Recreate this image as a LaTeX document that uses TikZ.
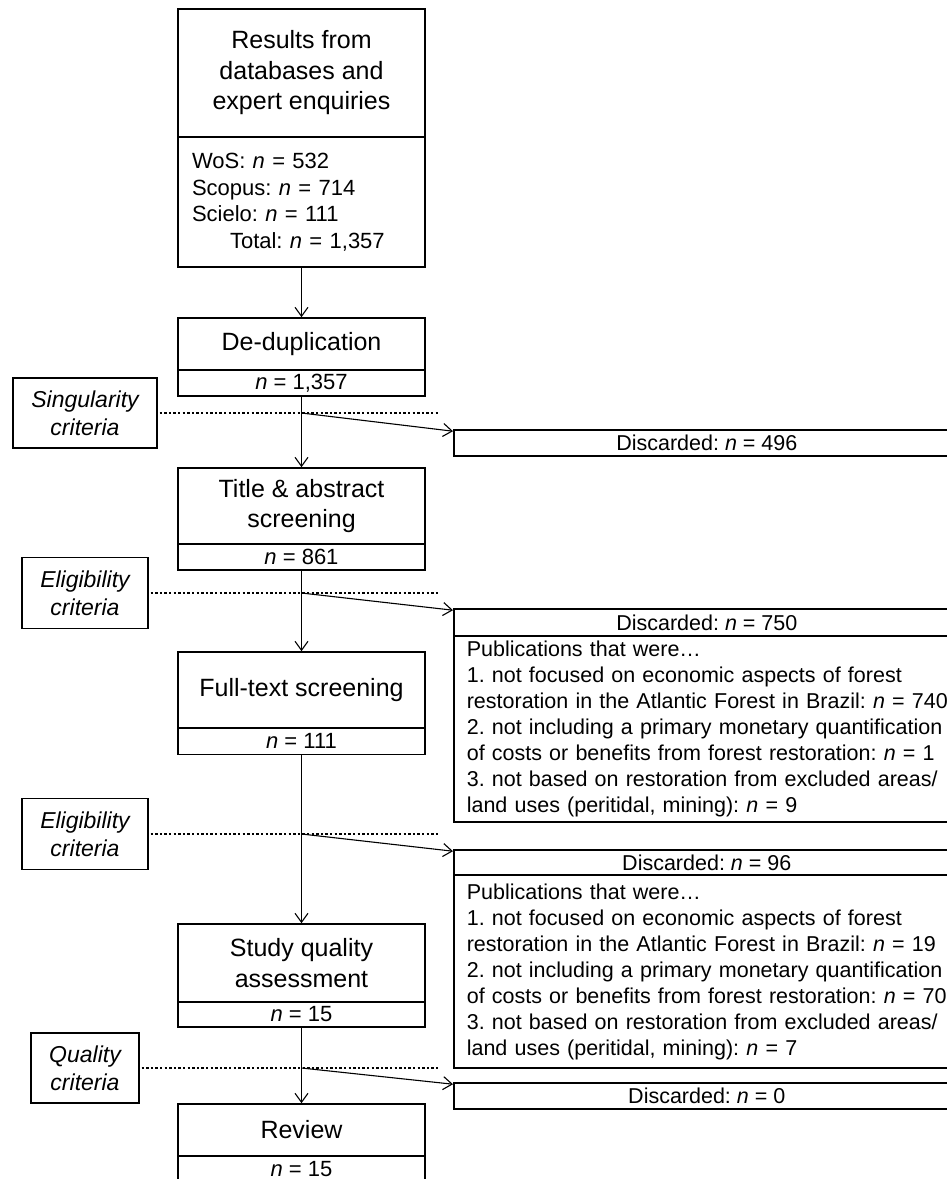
\documentclass[tikz,border=0pt]{standalone}
\usepackage{fontspec}
\setmainfont{Liberation Sans}
\usetikzlibrary{arrows.meta}
\frenchspacing
\begin{document}
\begin{tikzpicture}
    [
        x = 1pt, y = -1pt,
        stage/.style = {draw, line width=1.6pt, minimum width=247pt, inner sep=0pt, align=center, font=\fontsize{25}{30.5}\selectfont},
        count/.style = {draw, line width=1.6pt, minimum width=247pt, minimum height=26pt, inner sep=0pt, font=\fontsize{22}{26}\selectfont},
        crit/.style = {draw, line width=1.2pt, inner sep=0pt, align=center, font=\itshape\fontsize{23}{28}\selectfont},
        disc/.style = {draw, line width=1.6pt, anchor=west, minimum width=506pt, minimum height=26pt, inner sep=0pt, font=\fontsize{21.5}{26}\selectfont},
        discbody/.style = {disc, text width=520pt, inner xsep=13pt, align=left},
        flow/.style = {-{Straight Barb[length=9pt, width=13pt]}, line width=1.1pt},
        sep/.style = {dash pattern=on 2.3pt off 2.3pt, line width=2pt}
    ]
    \useasboundingbox (0, 0) rectangle (947, 1179);
    \node[stage, minimum height=128pt] (res) at (301.5, 73) {Results from\\databases and\\expert enquiries};
    \node[count, minimum height=130pt, text width=219pt, inner xsep=14pt, align=left, font=\fontsize{22}{26.5}\selectfont] (resn) at (301.5, 202) {WoS: \textit{n} = 532\\Scopus: \textit{n} = 714\\Scielo: \textit{n} = 111\\\hspace*{38pt}Total: \textit{n} = 1,357};
    \node[stage, minimum height=52pt] (dedup) at (301.5, 344) {De-duplication};
    \node[count] (dedupn) at (301.5, 383) {\textit{n} = 1,357};
    \node[stage, minimum height=76pt] (title) at (301.5, 506) {Title \& abstract\\screening};
    \node[count] (titlen) at (301.5, 557) {\textit{n} = 861};
    \node[stage, minimum height=76pt] (full) at (301.5, 690) {Full-text screening};
    \node[count, minimum height=27pt] (fulln) at (301.5, 741) {\textit{n} = 111};
    \node[stage, minimum height=78pt] (study) at (301.5, 963) {Study quality\\assessment};
    \node[count, minimum height=25pt] (studyn) at (301.5, 1014.5) {\textit{n} = 15};
    \node[stage, minimum height=52pt] (review) at (301.5, 1130) {Review};
    \node[count] (reviewn) at (301.5, 1169) {\textit{n} = 15};
    \node[crit, minimum width=144pt, minimum height=70pt] (sing) at (85, 413) {Singularity\\criteria};
    \node[crit, minimum width=126pt, minimum height=71pt] (elig) at (85, 593) {Eligibility\\criteria};
    \node[crit, minimum width=126pt, minimum height=71pt] (eligb) at (85, 834) {Eligibility\\criteria};
    \node[crit, minimum width=108pt, minimum height=70pt] (qual) at (85, 1068) {Quality\\criteria};
    \node[disc] (dup) at (453, 443) {Discarded: \textit{n} = 496};
    \node[disc, minimum height=27pt] (scr) at (453, 622.5) {Discarded: \textit{n} = 750};
    \node[discbody, minimum height=186pt] (scrwhy) at (453, 729) {Publications that were…\\1. not focused on economic aspects of forest\\restoration in the Atlantic Forest in Brazil: \textit{n} = 740\\2. not including a primary monetary quantification\\of costs or benefits from forest restoration: \textit{n} = 1\\3. not based on restoration from excluded areas/\\land uses (peritidal, mining): \textit{n} = 9};
    \node[disc, minimum height=25pt] (elg) at (453, 862.5) {Discarded: \textit{n} = 96};
    \node[discbody, minimum height=193pt] (elgwhy) at (453, 971.5) {Publications that were…\\1. not focused on economic aspects of forest\\restoration in the Atlantic Forest in Brazil: \textit{n} = 19\\2. not including a primary monetary quantification\\of costs or benefits from forest restoration: \textit{n} = 70\\3. not based on restoration from excluded areas/\\land uses (peritidal, mining): \textit{n} = 7};
    \node[disc] (qlt) at (453, 1096) {Discarded: \textit{n} = 0};
    \coordinate (singend) at (439, 413);
    \coordinate (eligend) at (439, 593);
    \coordinate (eligbend) at (439, 834);
    \coordinate (qualend) at (439, 1068);
    \draw[sep] ([xshift=2pt]sing.east) -- (singend);
    \draw[sep] ([xshift=2pt]elig.east) -- (eligend);
    \draw[sep] ([xshift=2pt]eligb.east) -- (eligbend);
    \draw[sep] ([xshift=2pt]qual.east) -- (qualend);
    \draw[flow] (resn) -- (dedup);
    \draw[flow] (dedupn) -- (title);
    \draw[flow] (titlen) -- (full);
    \draw[flow] (fulln) -- (study);
    \draw[flow] (studyn) -- (review);
    \draw[flow] (dedupn.south |- singend) -- ([yshift=-2pt]dup.north west);
    \draw[flow] (titlen.south |- eligend) -- ([yshift=-2pt]scr.north west);
    \draw[flow] (fulln.south |- eligbend) -- ([yshift=-2pt]elg.north west);
    \draw[flow] (studyn.south |- qualend) -- ([yshift=-2pt]qlt.north west);
\end{tikzpicture}
\end{document}
